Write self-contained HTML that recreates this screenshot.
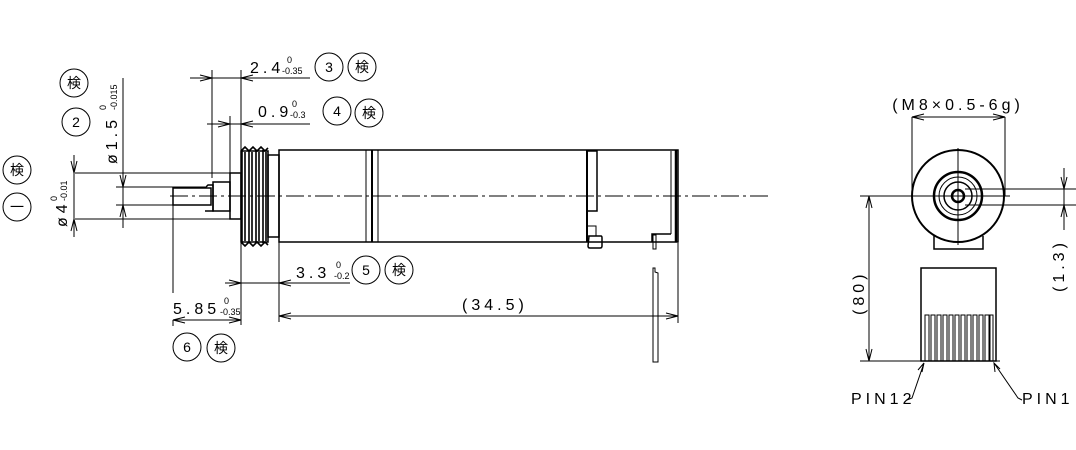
<!DOCTYPE html>
<html><head><style>
html,body{margin:0;padding:0;background:#fff}
svg{display:block}
text{font-family:"Liberation Sans","Noto Sans CJK JP",sans-serif;fill:#000}
.t{font-size:16px;letter-spacing:4px}
.s{font-size:9px}
.c{font-size:14px}
</style></head><body>
<svg width="1076" height="450" viewBox="0 0 1076 450" xmlns="http://www.w3.org/2000/svg" fill="none" stroke="#000" stroke-width="1">
<line x1="170" y1="196" x2="770" y2="196" stroke-dasharray="18,4,3,4"/>
<rect x="173" y="188" width="38" height="17" stroke-width="1.5"/>
<path d="M205 188 L208 185 L213 185 L213 211 L205 211" stroke-width="1.5"/>
<rect x="213" y="182" width="17" height="29" stroke-width="1.5"/>
<rect x="230" y="173" width="11" height="46" stroke-width="1.5"/>
<!-- thread -->
<rect x="241" y="151" width="27" height="91" stroke-width="1.5"/>
<g stroke-width="1.6">
<path d="M242 150 L242 243 M245 152 L245 241 M249 150 L249 243 M252 152 L252 241 M256 150 L256 243 M259 152 L259 241 M263 150 L263 243 M266 152 L266 241"/>
<path d="M241 151 L245 147 L249 151 L253 147 L257 151 L261 147 L265 151 L268 148 M241 242 L245 246 L249 242 L253 246 L257 242 L261 246 L265 242 L268 245"/>
</g>
<rect x="268" y="155" width="11" height="82" stroke-width="1.5"/>
<rect x="279" y="150" width="399" height="92" stroke-width="1.5"/>
<line x1="366" y1="150" x2="366" y2="242"/>
<line x1="372" y1="150" x2="372" y2="242" stroke-width="2"/>
<line x1="378" y1="150" x2="378" y2="242"/>
<rect x="587" y="151" width="10" height="60" stroke-width="1.5"/>
<line x1="587" y1="150" x2="587" y2="242" stroke-width="2"/>
<rect x="587" y="226" width="9" height="10"/>
<path d="M589 236 L601 236 Q602 236 602 238 L602 246 Q602 248 600 248 L590 248 Q588 248 588 246 Z" stroke-width="1.5"/>
<line x1="671" y1="151" x2="671" y2="234"/>
<line x1="676" y1="150" x2="676" y2="242" stroke-width="2.5"/>
<path d="M652 242 L652 234 L671 234" stroke-width="1.5"/>
<rect x="653" y="235" width="3" height="14"/>
<path d="M653 268 L655 268 L655 272 L658 273 L658 362 L653 362 Z"/>
<!-- 2.4 -->
<line x1="212" y1="70" x2="212" y2="178"/>
<line x1="241" y1="70" x2="241" y2="150"/>
<line x1="190" y1="78" x2="310" y2="78"/>
<path d="M200 75 L212 78 L200 81 M253 75 L241 78 L253 81"/>
<text x="250" y="73" class="t" stroke="none">2.4</text>
<text x="287" y="63" class="s" stroke="none">0</text>
<text x="282" y="74" class="s" stroke="none">-0.35</text>
<circle cx="329" cy="67" r="14"/><text x="329" y="72" class="c" text-anchor="middle" stroke="none">3</text>
<circle cx="362" cy="67" r="14"/><text x="362" y="72" class="c" text-anchor="middle" stroke="none">検</text>
<!-- 0.9 -->
<line x1="230" y1="116" x2="230" y2="173"/>
<line x1="207" y1="124" x2="310" y2="124"/>
<path d="M218 121 L230 124 L218 127 M253 121 L241 124 L253 127"/>
<text x="258" y="117" class="t" stroke="none">0.9</text>
<text x="292" y="107" class="s" stroke="none">0</text>
<text x="290" y="118" class="s" stroke="none">-0.3</text>
<circle cx="337" cy="111" r="14"/><text x="337" y="116" class="c" text-anchor="middle" stroke="none">4</text>
<circle cx="369" cy="113" r="14"/><text x="369" y="118" class="c" text-anchor="middle" stroke="none">検</text>
<!-- ø4 -->
<line x1="75" y1="173" x2="230" y2="173"/>
<line x1="75" y1="219" x2="230" y2="219"/>
<line x1="74" y1="155" x2="74" y2="237"/>
<path d="M71 161 L74 173 L77 161 M71 231 L74 219 L77 231"/>
<text transform="translate(67,227) rotate(-90)" class="t" stroke="none">ø4</text>
<text transform="translate(57,201) rotate(-90)" class="s" stroke="none">0</text>
<text transform="translate(67,201) rotate(-90)" class="s" stroke="none">-0.01</text>
<circle cx="17" cy="170" r="14"/><text x="17" y="175" class="c" text-anchor="middle" stroke="none">検</text>
<circle cx="17" cy="207" r="14"/><text x="17" y="212" class="c" text-anchor="middle" stroke="none">一</text>
<!-- ø1.5 -->
<line x1="116" y1="187" x2="205" y2="187"/>
<line x1="116" y1="205" x2="205" y2="205"/>
<line x1="123" y1="78" x2="123" y2="228"/>
<path d="M120 175 L123 187 L126 175 M120 217 L123 205 L126 217"/>
<text transform="translate(117,164) rotate(-90)" class="t" stroke="none">ø1.5</text>
<text transform="translate(106,110) rotate(-90)" class="s" stroke="none">0</text>
<text transform="translate(117,110) rotate(-90)" class="s" stroke="none">-0.015</text>
<circle cx="74" cy="83" r="14"/><text x="74" y="88" class="c" text-anchor="middle" stroke="none">検</text>
<circle cx="76" cy="122" r="14"/><text x="76" y="127" class="c" text-anchor="middle" stroke="none">2</text>
<!-- 3.3 -->
<line x1="241" y1="243" x2="241" y2="325"/>
<line x1="279" y1="242" x2="279" y2="322"/>
<line x1="225" y1="283" x2="350" y2="283"/>
<path d="M229 280 L241 283 L229 286 M291 280 L279 283 L291 286"/>
<text x="296" y="278" class="t" stroke="none">3.3</text>
<text x="336" y="268" class="s" stroke="none">0</text>
<text x="334" y="279" class="s" stroke="none">-0.2</text>
<circle cx="366" cy="270" r="14"/><text x="366" y="275" class="c" text-anchor="middle" stroke="none">5</text>
<circle cx="399" cy="270" r="14"/><text x="399" y="275" class="c" text-anchor="middle" stroke="none">検</text>
<!-- 34.5 -->
<line x1="678" y1="243" x2="678" y2="323"/>
<line x1="279" y1="316" x2="678" y2="316"/>
<path d="M291 313 L279 316 L291 319 M666 313 L678 316 L666 319"/>
<text x="462" y="310" class="t" stroke="none">(34.5)</text>
<!-- 5.85 -->
<line x1="173" y1="205" x2="173" y2="293"/>
<line x1="173" y1="320" x2="173" y2="326"/>
<line x1="173" y1="320" x2="241" y2="320"/>
<path d="M185 317 L173 320 L185 323 M229 317 L241 320 L229 323"/>
<text x="173" y="314" class="t" stroke="none">5.85</text>
<text x="224" y="304" class="s" stroke="none">0</text>
<text x="220" y="315" class="s" stroke="none">-0.35</text>
<circle cx="187" cy="347" r="14"/><text x="187" y="352" class="c" text-anchor="middle" stroke="none">6</text>
<circle cx="221" cy="348" r="14"/><text x="221" y="353" class="c" text-anchor="middle" stroke="none">検</text>
<!-- right view -->
<circle cx="958" cy="196" r="46" stroke-width="2"/>
<circle cx="958" cy="196" r="24" stroke-width="2.5"/>
<circle cx="958" cy="196" r="19"/>
<circle cx="958" cy="196" r="14" stroke-width="1.5"/>
<circle cx="958" cy="196" r="6" stroke-width="2.5"/>
<line x1="958" y1="148" x2="958" y2="245"/>
<line x1="860" y1="196" x2="1010" y2="196"/>
<path d="M934 236 L934 249 L983 249 L983 236" stroke-width="1.5"/>
<line x1="912" y1="117" x2="912" y2="196"/>
<line x1="1005" y1="117" x2="1005" y2="196"/>
<line x1="912" y1="117" x2="1005" y2="117"/>
<path d="M924 114 L912 117 L924 120 M993 114 L1005 117 L993 120"/>
<text x="958" y="110" class="t" text-anchor="middle" stroke="none">(M8×0.5-6g)</text>
<line x1="965" y1="189" x2="1076" y2="189"/>
<line x1="965" y1="205" x2="1076" y2="205"/>
<line x1="1064" y1="168" x2="1064" y2="230"/>
<path d="M1061 177 L1064 189 L1067 177 M1061 217 L1064 205 L1067 217"/>
<text transform="translate(1064,292) rotate(-90)" class="t" stroke="none">(1.3)</text>
<line x1="869" y1="196" x2="869" y2="361"/>
<line x1="860" y1="361" x2="1000" y2="361"/>
<path d="M866 208 L869 196 L872 208 M866 349 L869 361 L872 349"/>
<text transform="translate(864,315) rotate(-90)" class="t" stroke="none">(80)</text>
<rect x="921" y="268" width="75" height="93" stroke-width="1.5"/>
<g stroke-width="1">
<rect x="925" y="315" width="4" height="46"/><rect x="931" y="315" width="4" height="46"/>
<rect x="937" y="315" width="4" height="46"/><rect x="943" y="315" width="4" height="46"/>
<rect x="949" y="315" width="4" height="46"/><rect x="955" y="315" width="4" height="46"/>
<rect x="961" y="315" width="4" height="46"/><rect x="967" y="315" width="4" height="46"/>
<rect x="973" y="315" width="4" height="46"/><rect x="979" y="315" width="4" height="46"/>
<rect x="985" y="315" width="4" height="46"/><rect x="990" y="315" width="3" height="46"/>
</g>
<path d="M924 363 L912 398 L907 400 M922 372 L924 363 L918 370"/>
<path d="M994 363 L1018 398 L1022 400 M995 372 L994 363 L1000 369"/>
<text x="851" y="404" class="t" stroke="none">PIN12</text>
<text x="1022" y="404" class="t" stroke="none">PIN1</text>
</svg>
</body></html>
